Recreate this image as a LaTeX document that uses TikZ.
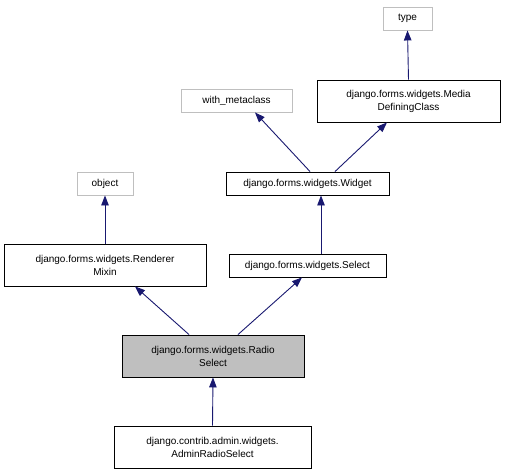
\documentclass[tikz,border=0pt]{standalone}
\usepackage{fontspec}
\setmainfont{Liberation Sans}
\usetikzlibrary{arrows.meta}
\definecolor{dxEdge}{HTML}{191970}
\definecolor{dxExt}{HTML}{BFBFBF}
\definecolor{dxCur}{HTML}{BFBFBF}
\tikzset{
  clsnode/.style={
    draw=black, fill=white, line width=0.9pt, inner sep=0pt,
    minimum height=23pt, align=center,
    font=\fontsize{10}{13}\selectfont
  },
  twoline/.style={clsnode, minimum height=42pt},
  extnode/.style={clsnode, draw=dxExt},
  curnode/.style={twoline, fill=dxCur},
  inherit/.style={-{Triangle[length=10pt, width=7.5pt]}, line width=0.9pt, dxEdge}
}
\begin{document}
\begin{tikzpicture}[x=1pt, y=-1pt]
  \useasboundingbox (0,0) rectangle (506,469);
  % external bases
  \node[extnode, minimum width=49pt] (type) at (407.5,18.5) {type};
  \node[extnode, minimum width=111pt] (withmeta) at (236.5,100.5) {with\_metaclass};
  \node[extnode, minimum width=56pt] (object) at (105,183.5) {object};
  % documented classes
  \node[twoline, minimum width=183pt] (mdc) at (408.5,101) {django.forms.widgets.Media\\DefiningClass};
  \node[clsnode, minimum width=163pt] (widget) at (307.5,183.5) {django.forms.widgets.Widget};
  \node[twoline, minimum width=202pt] (mixin) at (105,265) {django.forms.widgets.Renderer\\Mixin};
  \node[clsnode, minimum width=157pt] (select) at (307.5,265.5) {django.forms.widgets.Select};
  \node[curnode, minimum width=182pt] (radio) at (213,356) {django.forms.widgets.Radio\\Select};
  \node[twoline, minimum width=197pt] (admin) at (212.5,447) {django.contrib.admin.widgets.\\AdminRadioSelect};
  % inheritance edges
  \draw[inherit] (mdc.north) -- (type.south);
  \draw[inherit] ([xshift=2.5pt]widget.north) -- ([xshift=18.5pt]withmeta.south);
  \draw[inherit] ([xshift=27.5pt]widget.north) -- ([xshift=-21.5pt]mdc.south);
  \draw[inherit] ([xshift=13.5pt]select.north) -- ([xshift=13.5pt]widget.south);
  \draw[inherit] (mixin.north) -- (object.south);
  \draw[inherit] ([xshift=-24pt]radio.north) -- ([xshift=30pt]mixin.south);
  \draw[inherit] ([xshift=25pt]radio.north) -- ([xshift=-5.5pt]select.south);
  \draw[inherit] (admin.north) -- (radio.south);
\end{tikzpicture}
\end{document}
